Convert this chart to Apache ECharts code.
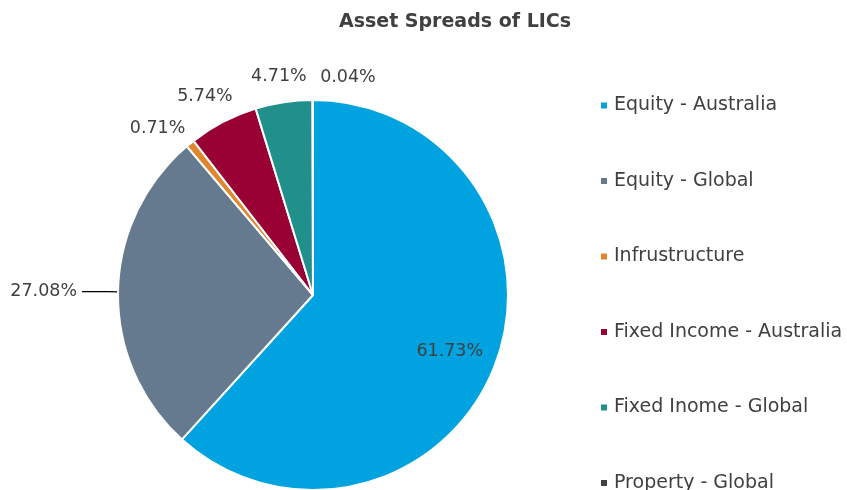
<!DOCTYPE html>
<html>
<head>
<meta charset="utf-8">
<script src="https://cdn.jsdelivr.net/npm/echarts@6/dist/echarts.min.js"></script>
<style>
  html, body { margin: 0; padding: 0; background: #fff; }
  #chart { width: 847px; height: 490px; }
</style>
</head>
<body>
<div id="chart"></div>
<script>
// asset classes and their share (%)
const categories = ['Equity - Australia', 'Equity - Global', 'Infrustructure', 'Fixed Income - Australia', 'Fixed Inome - Global', 'Property - Global']
const values = [61.73, 27.08, 0.71, 5.74, 4.71, 0.04]
const colors = ['#00a3e0', '#667a8f', '#e0862c', '#990033', '#21908a', '#404040']
// nudges for the small outside labels
const labelOffsets = [null, null, [13, -4], [25, -13], [34, -12], [72, -9]]

const font = '"DejaVu Sans", sans-serif'

const chart = echarts.init(document.getElementById('chart'))

const pieData = categories.map((name, i) => {
  const item = { name: name, value: values[i], itemStyle: { color: colors[i] } }
  if (i === 0) {
    item.label = { position: 'inside', offset: [43, 20] }
  } else if (i === 1) {
    item.labelLine = { show: true, length: 10, length2: 26 }
  } else {
    item.label = { offset: labelOffsets[i] }
  }
  return item
})

chart.setOption({
  animation: false,
  title: {
    text: 'Asset Spreads of LICs',
    left: 450,
    top: 8,
    textAlign: 'center',
    textStyle: { fontFamily: font, fontSize: 19, fontWeight: 'bold', color: '#404040' }
  },
  legend: {
    orient: 'vertical',
    left: 594,
    top: 91,
    height: 440,
    itemWidth: 8,
    itemHeight: 8,
    itemGap: 56.5,
    icon: 'rect',
    textStyle: { fontFamily: font, fontSize: 19, color: '#404040', padding: [0, 0, 0, 1] },
    data: categories
  },
  series: [
    {
      type: 'pie',
      center: [313, 295],
      radius: [0, 195],
      startAngle: 90,
      clockwise: true,
      avoidLabelOverlap: false,
      minShowLabelAngle: 0,
      labelLayout: { hideOverlap: false },
      itemStyle: { borderColor: '#fff', borderWidth: 2 },
      label: {
        show: true,
        formatter: p => p.value.toFixed(2) + '%',
        fontFamily: font,
        fontSize: 17.5,
        color: '#404040'
      },
      labelLine: { show: false, length: 14, length2: 4, lineStyle: { color: '#000', width: 1.2 } },
      data: pieData
    }
  ]
})
</script>
</body>
</html>
